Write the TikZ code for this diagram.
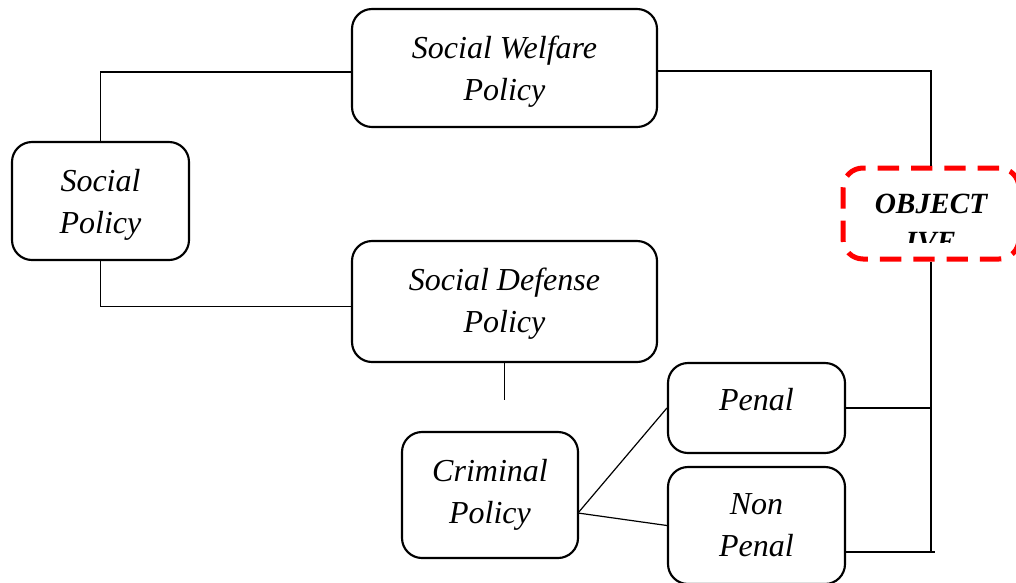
\documentclass[tikz,border=0pt]{standalone}
\usepackage{fontspec}
\setmainfont{Liberation Serif}
\begin{document}
\begin{tikzpicture}[x=0.75pt,y=-0.75pt]
  \useasboundingbox (0,0) rectangle (1016,582);

  \begin{scope}[every node/.style={draw, line width=1.6pt, rounded corners=15pt, align=center, inner sep=0pt,
      font=\fontsize{24}{31.5}\selectfont\itshape, minimum width=132.75pt, minimum height=88.5pt}]
    \node[text depth=0pt] (social) at (100.5,201) {Social\\Policy};
    \node[minimum width=228.75pt, text depth=0pt] (welfare) at (504.5,68) {Social Welfare\\Policy};
    \node[minimum width=228.75pt, minimum height=90.75pt, text depth=2pt] (defense) at (504.5,301.5) {Social Defense\\Policy};
    \node[minimum width=132pt, minimum height=94.5pt] (criminal) at (490,495) {Criminal\\Policy};
    \node[minimum height=67.5pt, text depth=13.5pt] (penal) at (756.5,408) {Penal};
    \node[minimum height=87.75pt] (nonpenal) at (756.5,525.5) {Non\\Penal};
  \end{scope}

  % objective box, text cut off below
  \node[draw=red, line width=3.75pt, dash pattern=on 16pt off 9pt, rounded corners=15pt,
    minimum width=132pt, minimum height=68.25pt] (objective) at (931,213.5) {};
  \begin{scope}
    \clip (843,168) rectangle (1016,242);
    \node[align=center, font=\fontsize{22}{29}\selectfont\bfseries\itshape] (objtext) at (931,223) {OBJECT\\IVE};
  \end{scope}

  \coordinate (stub)   at (504.5,400);
  \coordinate (split)  at (578,513);
  \coordinate (bus)    at (931,552);
  \coordinate (busend) at (935,552);

  \begin{scope}[line width=0.9pt]
    \draw (social) |- ([yshift=-3pt]welfare.west);
    \draw (social) |- ([yshift=-4pt]defense.west);
    \draw ([yshift=-2.25pt]welfare.east) -| (objective);
    \draw (defense) -- (stub);
    \draw (split) -- (penal.west);
    \draw (split) -- (nonpenal.west);
    \draw (penal) -- (penal -| bus);
    \draw (nonpenal.east |- bus) -- (busend);
    \draw (objective) -- (bus);
  \end{scope}

\end{tikzpicture}
\end{document}
